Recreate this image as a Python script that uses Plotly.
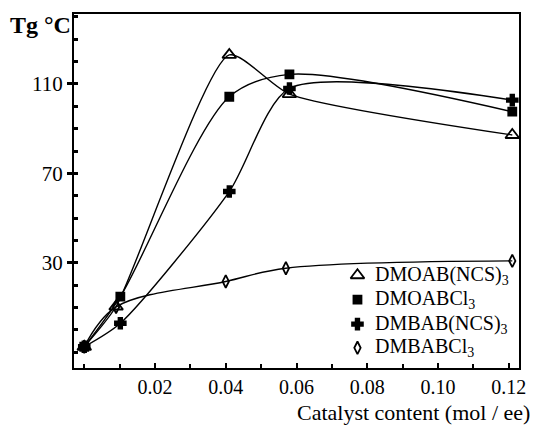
import plotly.graph_objects as go

# ---- data ----
x_tri = [0.0, 0.009, 0.041, 0.058, 0.121]
y_tri = [-7.5, 10.5, 123.0, 105.5, 87.2]

x_sq = [0.0, 0.0102, 0.041, 0.058, 0.121]
y_sq = [-7.5, 14.9, 104.3, 114.3, 97.6]

x_plus = [0.0, 0.0102, 0.041, 0.058, 0.121]
y_plus = [-7.5, 3.0, 61.9, 108.0, 102.8]

x_dia = [0.0, 0.009, 0.040, 0.057, 0.121]
y_dia = [-7.5, 10.3, 21.7, 27.6, 30.9]

names = ["DMOAB(NCS)<sub>3</sub>", "DMOABCl<sub>3</sub>", "DMBAB(NCS)<sub>3</sub>", "DMBABCl<sub>3</sub>"]
x_ticks = [0.02, 0.04, 0.06, 0.08, 0.10, 0.12]
x_tick_text = ["0.02", "0.04", "0.06", "0.08", "0.10", "0.12"]
y_ticks = [30, 70, 110]
y_tick_text = ["30", "70", "110"]

series = [
    (x_tri, y_tri, "triangle-up-open", 12, 0.6),
    (x_sq, y_sq, "square", 8, 0.85),
    (x_plus, y_plus, "cross", 9, 0.7),
    (x_dia, y_dia, "diamond-tall-open", 9, 1.0),
]

# legend layout (paper-like coordinates of the overlay axes)
leg_sym_x = 0.637
leg_txt_x = 0.672
leg_rows = [0.262, 0.193, 0.124, 0.057]

fig = go.Figure()
for (xs, ys, sym, sz, sm), nm in zip(series, names):
    fig.add_trace(go.Scatter(
        x=xs, y=ys, mode="lines+markers", showlegend=False,
        line=dict(color="black", width=1.4, shape="spline", smoothing=sm),
        marker=dict(symbol=sym, size=sz, color="black", line=dict(color="black", width=1.8)),
    ))

serif = "Times New Roman"
annotations = []
for (xs, ys, sym, sz, sm), nm, ry in zip(series, names, leg_rows):
    fig.add_trace(go.Scatter(
        x=[leg_sym_x], y=[ry], xaxis="x2", yaxis="y2", mode="markers", showlegend=False,
        hoverinfo="skip",
        marker=dict(symbol=sym, size=sz, color="black", line=dict(color="black", width=1.8)),
    ))
    annotations.append(dict(text=nm, xref="paper", yref="paper", x=leg_txt_x, y=ry,
                            xanchor="left", yanchor="middle", showarrow=False,
                            font=dict(family=serif, size=20, color="black")))

annotations += [
    dict(text="<b>Tg °C</b>", xref="paper", yref="paper", x=-0.003, y=1.01,
         xanchor="right", yanchor="top", showarrow=False,
         font=dict(family=serif, size=24, color="black")),
    dict(text="Catalyst content (mol / ee)", xref="paper", yref="paper", x=1.03, y=-0.125,
         xanchor="right", yanchor="middle", showarrow=False,
         font=dict(family=serif, size=22, color="black")),
]

fig.update_layout(
    width=538, height=425,
    margin=dict(l=74, r=15, t=14, b=57),
    paper_bgcolor="white", plot_bgcolor="white",
    font=dict(family=serif, size=20, color="black"),
    showlegend=False,
    xaxis=dict(range=[-0.0029, 0.1229], showgrid=False, zeroline=False,
               showline=True, linecolor="black", linewidth=2, mirror=True,
               tickvals=x_ticks, ticktext=x_tick_text, ticks="inside", ticklen=5,
               tickwidth=1.5, tickcolor="black",
               tickfont=dict(family=serif, size=20, color="black"),
               minor=dict(dtick=0.01, tick0=0, ticks="inside", ticklen=4, tickwidth=1.5, tickcolor="black")),
    yaxis=dict(range=[-17, 141.3], showgrid=False, zeroline=False,
               showline=True, linecolor="black", linewidth=2, mirror=True,
               tickvals=y_ticks, ticktext=y_tick_text, ticks="outside", ticklen=5,
               tickwidth=2.5, tickcolor="black",
               tickfont=dict(family=serif, size=21, color="black"),
               minor=dict(dtick=10, tick0=0, ticks="inside", ticklen=4, tickwidth=2.5, tickcolor="black")),
    xaxis2=dict(range=[0, 1], overlaying="x", visible=False, fixedrange=True),
    yaxis2=dict(range=[0, 1], overlaying="y", visible=False, fixedrange=True),
    annotations=annotations,
)
fig.write_html("out.html")
